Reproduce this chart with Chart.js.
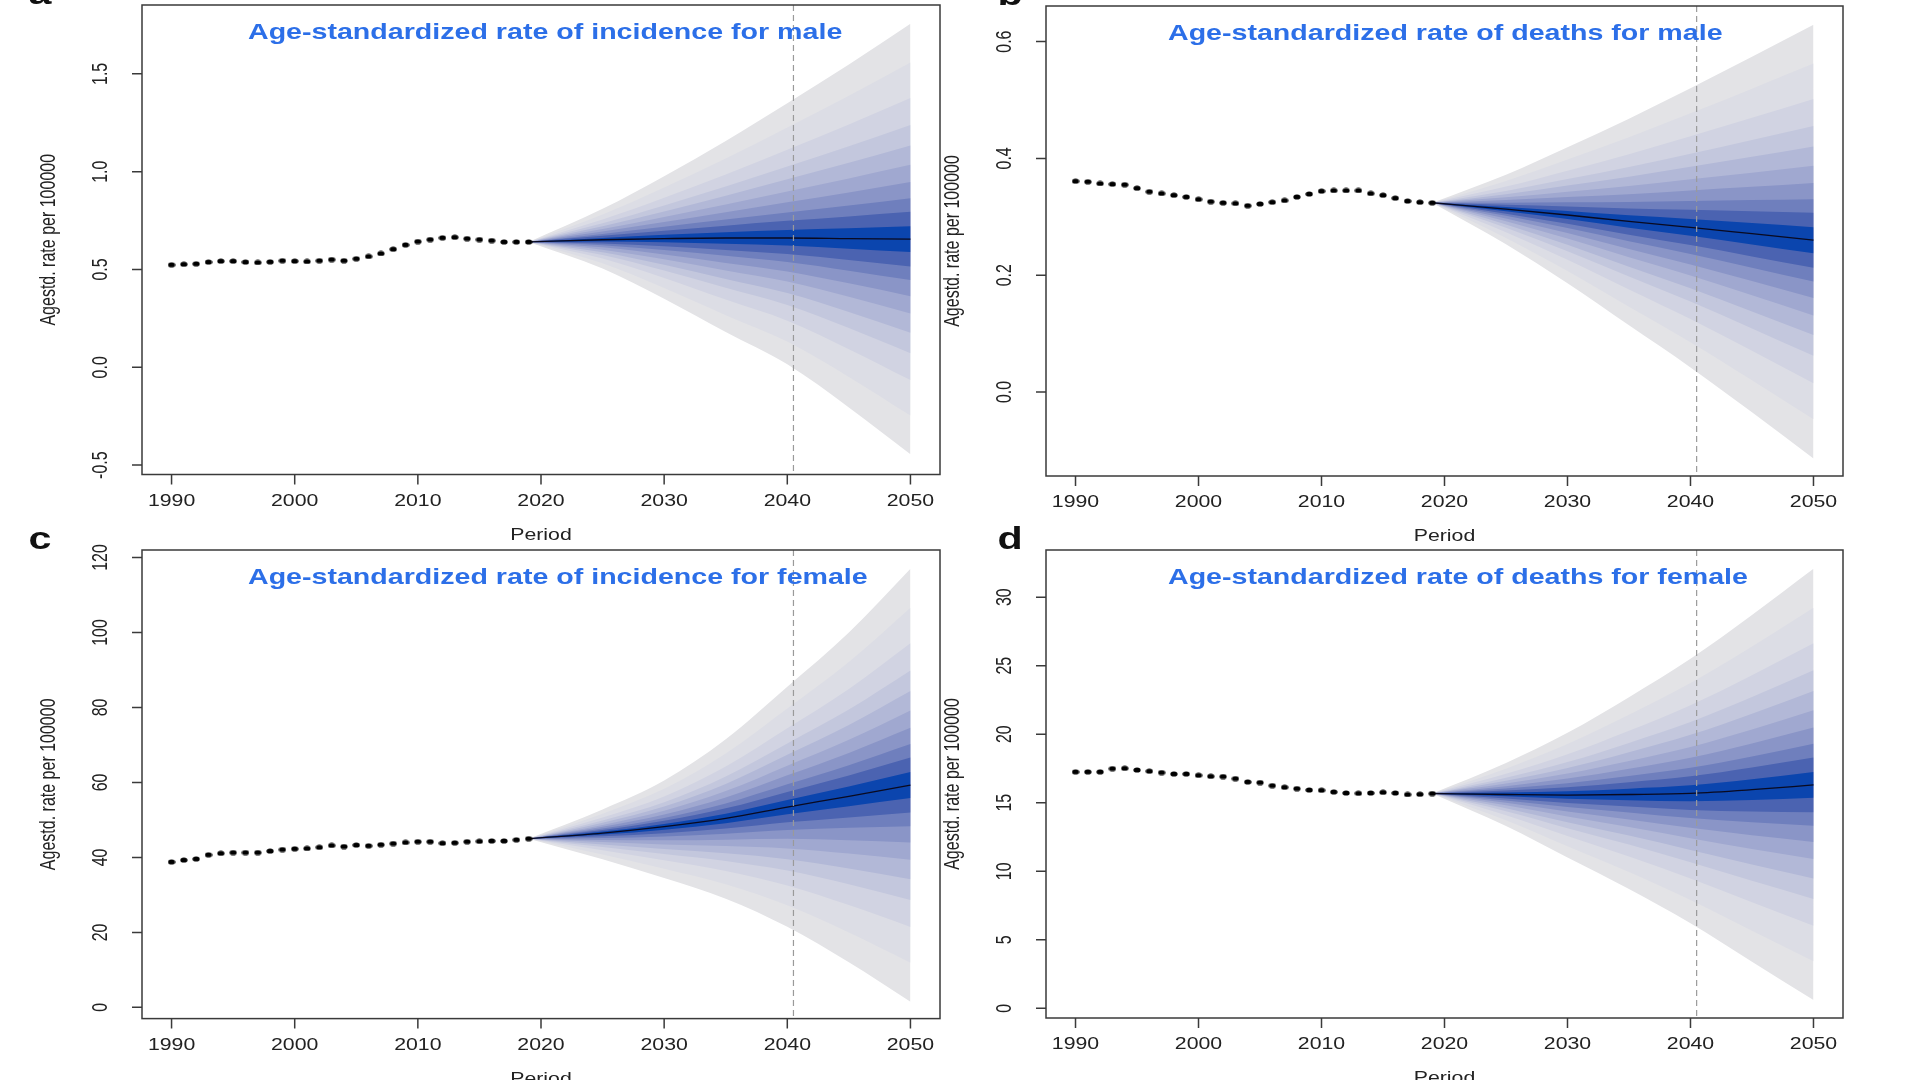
<!DOCTYPE html>
<html lang="en">
<head>
  <meta charset="UTF-8">
  <style>
    html, body {
      margin: 0;
      padding: 0;
      background: #fff;
    }
    body {
      width: 1920px;
      height: 1080px;
      position: relative;
      overflow: hidden;
    }
    .panel {
      position: absolute;
    }
  </style>
</head>
<body>
  <div class="panel" style="left:0;top:0"><canvas id="chartA" width="960" height="560"></canvas></div>
  <div class="panel" style="left:900px;top:0"><canvas id="chartB" width="1020" height="560"></canvas></div>
  <div class="panel" style="left:0;top:500px"><canvas id="chartC" width="960" height="580"></canvas></div>
  <div class="panel" style="left:900px;top:500px"><canvas id="chartD" width="1020" height="580"></canvas></div>

  <script src="https://cdn.jsdelivr.net/npm/chart.js"></script>
  <script>
    // observed years
    const obsYears = [1990, 1991, 1992, 1993, 1994, 1995, 1996, 1997, 1998, 1999,
                      2000, 2001, 2002, 2003, 2004, 2005, 2006, 2007, 2008, 2009,
                      2010, 2011, 2012, 2013, 2014, 2015, 2016, 2017, 2018, 2019];

    // observed age-standardized rates
    const incMale = [0.524, 0.527, 0.529, 0.538, 0.543, 0.543, 0.538, 0.536, 0.539, 0.545,
                     0.543, 0.541, 0.545, 0.551, 0.545, 0.555, 0.567, 0.582, 0.604, 0.626,
                     0.643, 0.653, 0.662, 0.665, 0.658, 0.653, 0.648, 0.641, 0.641, 0.641];
    const deathMale = [0.361, 0.360, 0.357, 0.356, 0.355, 0.349, 0.343, 0.340, 0.337, 0.334,
                       0.330, 0.326, 0.324, 0.323, 0.319, 0.322, 0.325, 0.328, 0.334, 0.339,
                       0.344, 0.345, 0.345, 0.345, 0.340, 0.337, 0.332, 0.327, 0.325, 0.324];
    const incFemale = [38.8, 39.3, 39.6, 40.7, 41.1, 41.3, 41.3, 41.3, 41.7, 42.1,
                       42.3, 42.4, 42.7, 43.2, 42.9, 43.3, 43.1, 43.4, 43.7, 44.0,
                       44.2, 44.2, 43.8, 43.9, 44.2, 44.3, 44.4, 44.4, 44.7, 45.0];
    const deathFemale = [17.25, 17.25, 17.25, 17.49, 17.51, 17.39, 17.30, 17.20, 17.10, 17.10,
                         17.00, 16.93, 16.91, 16.76, 16.52, 16.47, 16.25, 16.13, 16.03, 15.93,
                         15.91, 15.79, 15.71, 15.69, 15.71, 15.76, 15.71, 15.60, 15.62, 15.67];

    // projection: median and outer (2.5% / 97.5%) limits at these years
    const fcYears = [2019, 2025, 2030, 2035, 2040, 2045, 2050];

    const incMaleMed = [0.641, 0.652, 0.658, 0.661, 0.661, 0.658, 0.655];
    const incMaleHi = [0.641, 0.810, 0.977, 1.157, 1.350, 1.548, 1.756];
    const incMaleLo = [0.641, 0.505, 0.350, 0.180, 0.015, -0.205, -0.445];

    const deathMaleMed = [0.324, 0.313, 0.303, 0.292, 0.282, 0.271, 0.260];
    const deathMaleHi = [0.324, 0.372, 0.419, 0.468, 0.520, 0.574, 0.629];
    const deathMaleLo = [0.324, 0.253, 0.186, 0.114, 0.042, -0.035, -0.114];

    const incFemaleMed = [45.0, 46.5, 48.2, 50.4, 53.4, 56.3, 59.3];
    const incFemaleHi = [45.0, 52.8, 60.5, 71.5, 85.5, 100.0, 117.0];
    const incFemaleLo = [45.0, 39.5, 34.5, 29.0, 21.5, 12.0, 1.5];

    const deathFemaleMed = [15.67, 15.60, 15.56, 15.60, 15.68, 15.95, 16.30];
    const deathFemaleHi = [15.67, 17.9, 20.1, 22.7, 25.5, 28.7, 32.07];
    const deathFemaleLo = [15.67, 13.3, 11.0, 8.7, 6.2, 3.4, 0.6];

    // relative position of each fan band edge between median (0) and outer limit (1)
    const bandFractions = [1.0, 0.82, 0.655, 0.53, 0.435, 0.345, 0.265, 0.19, 0.127, 0.06];
    const bandColors = ['#e3e3e6', '#dcdde5', '#d1d3e2', '#c3c7dd', '#b2b8d7',
                        '#a0a8d0', '#8a95c7', '#6f7fbd', '#4b63b1', '#0b45ae'];

    // axis ticks
    const xTicks = [1990, 2000, 2010, 2020, 2030, 2040, 2050];
    const markYear = 2040.5;
    const ticksA = [-0.5, 0, 0.5, 1, 1.5];
    const labelsA = ['-0.5', '0.0', '0.5', '1.0', '1.5'];
    const ticksB = [0, 0.2, 0.4, 0.6];
    const labelsB = ['0.0', '0.2', '0.4', '0.6'];
    const ticksC = [0, 20, 40, 60, 80, 100, 120];
    const labelsC = ['0', '20', '40', '60', '80', '100', '120'];
    const ticksD = [0, 5, 10, 15, 20, 25, 30];
    const labelsD = ['0', '5', '10', '15', '20', '25', '30'];

    const SX = 1.33; // the original figure is stretched horizontally
    const FONT = '"Liberation Sans", Arial, sans-serif';

    // slightly wide dot, like the stretched R points
    const dotImg = document.createElement('canvas');
    dotImg.width = 8;
    dotImg.height = 6;
    (function () {
      const c = dotImg.getContext('2d');
      c.fillStyle = '#000';
      c.beginPath();
      c.ellipse(4, 3, 3.6, 2.6, 0, 0, Math.PI * 2);
      c.fill();
    })();

    function drawText(ctx, txt, x, y, font, color, align, rotate) {
      ctx.save();
      ctx.translate(x, y);
      ctx.scale(SX, 1);
      if (rotate) ctx.rotate(-Math.PI / 2);
      ctx.font = font;
      ctx.fillStyle = color;
      ctx.textAlign = align;
      ctx.textBaseline = 'middle';
      ctx.fillText(txt, 0, 0);
      ctx.restore();
    }

    // R style frame, axes and labels
    const rAxesPlugin = {
      id: 'rAxes',
      afterDatasetsDraw(chart) {
        const { ctx, chartArea: a, scales: { x } } = chart;
        // dashed marker line
        const mx = x.getPixelForValue(markYear);
        ctx.save();
        ctx.strokeStyle = '#9a9a9a';
        ctx.lineWidth = 1.2;
        ctx.setLineDash([6, 4]);
        ctx.beginPath();
        ctx.moveTo(mx, a.top);
        ctx.lineTo(mx, a.bottom);
        ctx.stroke();
        ctx.restore();
      },
      afterDraw(chart) {
        const p = chart.options.plugins.rAxes;
        const { ctx, chartArea: a, scales: { x, y } } = chart;
        const tickFont = '16px ' + FONT;
        ctx.save();
        ctx.strokeStyle = '#3a3a3a';
        ctx.lineWidth = 1.5;
        ctx.strokeRect(a.left, a.top, a.right - a.left, a.bottom - a.top);
        ctx.beginPath();
        xTicks.forEach(v => {
          const px = x.getPixelForValue(v);
          ctx.moveTo(px, a.bottom);
          ctx.lineTo(px, a.bottom + 10);
        });
        p.yTicks.forEach(v => {
          const py = y.getPixelForValue(v);
          ctx.moveTo(a.left, py);
          ctx.lineTo(a.left - 10, py);
        });
        ctx.stroke();
        ctx.restore();

        xTicks.forEach(v => {
          drawText(ctx, String(v), x.getPixelForValue(v), a.bottom + 27, tickFont, '#222', 'center', false);
        });
        p.yTicks.forEach((v, i) => {
          drawText(ctx, p.yLabels[i], a.left - 41, y.getPixelForValue(v), tickFont, '#222', 'center', true);
        });
        const cx = (a.left + a.right) / 2;
        const cy = (a.top + a.bottom) / 2;
        drawText(ctx, 'Period', cx, a.bottom + 61, tickFont, '#222', 'center', false);
        drawText(ctx, 'Agestd. rate per 100000', a.left - 93, cy, tickFont, '#222', 'center', true);
        drawText(ctx, p.title, p.titleX, a.top + 28, 'bold 21.5px ' + FONT, '#2c6fe8', 'left', false);

        ctx.save();
        ctx.translate(p.letterX, a.top - 1);
        ctx.scale(SX, 1);
        ctx.font = 'bold 31px ' + FONT;
        ctx.fillStyle = '#111';
        ctx.textAlign = 'center';
        ctx.textBaseline = 'alphabetic';
        ctx.fillText(p.letter, 0, 0);
        ctx.restore();
      }
    };

    function pts(xs, ys) {
      return xs.map((v, i) => ({ x: v, y: ys[i] }));
    }

    function makePanel(id, cfg) {
      const datasets = [];
      bandFractions.forEach((f, k) => {
        const hi = fcYears.map((yr, i) => ({ x: yr, y: cfg.med[i] + f * (cfg.hi[i] - cfg.med[i]) }));
        const lo = fcYears.map((yr, i) => ({ x: yr, y: cfg.med[i] - f * (cfg.med[i] - cfg.lo[i]) }));
        const common = {
          borderColor: 'rgba(0,0,0,0)',
          borderWidth: 0,
          pointRadius: 0,
          cubicInterpolationMode: 'monotone',
          order: 30 - k
        };
        datasets.push(Object.assign({ data: hi, fill: '+1', backgroundColor: bandColors[k] }, common));
        datasets.push(Object.assign({ data: lo, fill: false }, common));
      });
      datasets.push({
        data: pts(fcYears, cfg.med),
        borderColor: '#0a0a20',
        borderWidth: 1.3,
        pointRadius: 0,
        fill: false,
        cubicInterpolationMode: 'monotone',
        order: 1
      });
      datasets.push({
        data: pts(obsYears, cfg.obs),
        showLine: false,
        pointStyle: dotImg,
        pointRadius: 4,
        order: 0
      });

      return new Chart(document.getElementById(id).getContext('2d'), {
        type: 'line',
        data: { datasets: datasets },
        options: {
          responsive: false,
          animation: false,
          devicePixelRatio: 1,
          layout: { padding: cfg.pad },
          scales: {
            x: { type: 'linear', min: 1987.6, max: 2052.4, display: false },
            y: { type: 'linear', min: cfg.yMin, max: cfg.yMax, display: false }
          },
          plugins: {
            legend: { display: false },
            tooltip: { enabled: false },
            rAxes: {
              yTicks: cfg.yTicks,
              yLabels: cfg.yLabels,
              title: cfg.title,
              titleX: cfg.titleX,
              letter: cfg.letter,
              letterX: cfg.letterX
            }
          }
        },
        plugins: [rAxesPlugin]
      });
    }

    makePanel('chartA', {
      obs: incMale, med: incMaleMed, hi: incMaleHi, lo: incMaleLo,
      yMin: -0.548, yMax: 1.852, yTicks: ticksA, yLabels: labelsA,
      title: 'Age-standardized rate of incidence for male', titleX: 248,
      letter: 'a', letterX: 40,
      pad: { left: 142, top: 4, right: 20, bottom: 85.5 }
    });
    makePanel('chartB', {
      obs: deathMale, med: deathMaleMed, hi: deathMaleHi, lo: deathMaleLo,
      yMin: -0.144, yMax: 0.661, yTicks: ticksB, yLabels: labelsB,
      title: 'Age-standardized rate of deaths for male', titleX: 268,
      letter: 'b', letterX: 110,
      pad: { left: 146, top: 6, right: 77, bottom: 84 }
    });
    makePanel('chartC', {
      obs: incFemale, med: incFemaleMed, hi: incFemaleHi, lo: incFemaleLo,
      yMin: -3.0, yMax: 122.0, yTicks: ticksC, yLabels: labelsC,
      title: 'Age-standardized rate of incidence for female', titleX: 248,
      letter: 'c', letterX: 40,
      pad: { left: 142, top: 50, right: 20, bottom: 61.4 }
    });
    makePanel('chartD', {
      obs: deathFemale, med: deathFemaleMed, hi: deathFemaleHi, lo: deathFemaleLo,
      yMin: -0.71, yMax: 33.44, yTicks: ticksD, yLabels: labelsD,
      title: 'Age-standardized rate of deaths for female', titleX: 268,
      letter: 'd', letterX: 110,
      pad: { left: 146, top: 50, right: 77, bottom: 62 }
    });
  </script>
</body>
</html>
